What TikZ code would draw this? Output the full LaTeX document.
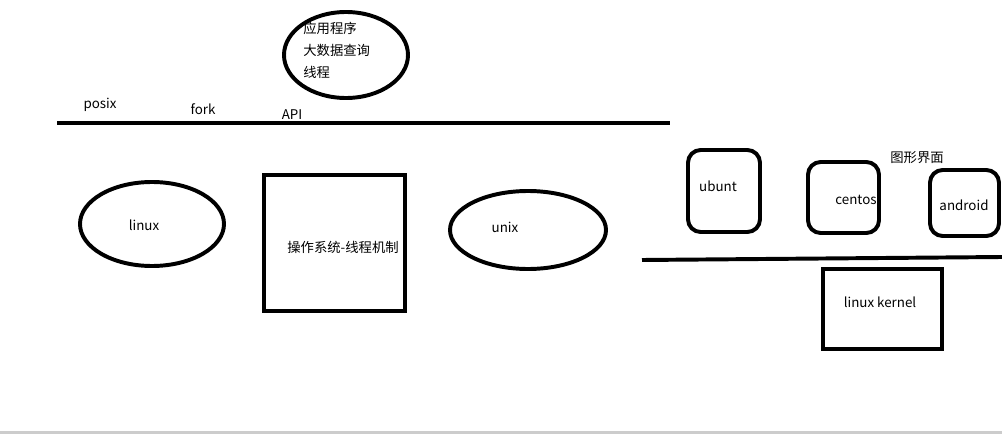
\documentclass[tikz,border=0pt]{standalone}
\usepackage{fontspec}
\setmainfont{Noto Sans CJK SC}
\usetikzlibrary{shapes}

\tikzset{
  stroke/.style={line width=2.8pt},
  label/.style={font=\fontsize{9.5}{11}\selectfont, inner sep=0pt},
  distro/.style={stroke, rounded corners=9pt},
}

\begin{document}
\begin{tikzpicture}[x=0.025cm, y=-0.025cm]
      \useasboundingbox (0, 0) rectangle (1002, 434);
      \fill[gray!40] (0, 431) rectangle (1002, 434);

      % Nodes
      \coordinate (L1a) at (57, 123);
      \coordinate (L1b) at (670, 123);
      \coordinate (L2a) at (642, 260);
      \coordinate (L2b) at (1002, 257);

      % Le haut
      \draw[stroke] (346, 55) ellipse [x radius=62, y radius=43];
      \node[label, anchor=west] (app) at (303, 28) {应用程序};
      \node[label, anchor=west] (bigdata) at (303, 50) {大数据查询};
      \node[label, anchor=west] (thread) at (303, 72) {线程};

      \node[label] (posix) at (100, 105) {posix};
      \node[label] (fork) at (203, 109) {fork};
      \node[label] (api) at (292, 115) {API};
      \draw[stroke] (L1a) -- (L1b);

      % Le milieu
      \draw[stroke] (152, 224) ellipse [x radius=72, y radius=42];
      \node[label] (linux) at (144, 225) {linux};
      \draw[stroke] (264, 175) rectangle (405, 311);
      \node[label, anchor=west] (os) at (287, 247) {操作系统-线程机制};
      \draw[stroke] (528, 230) ellipse [x radius=78, y radius=39];
      \node[label] (unix) at (505, 227) {unix};

      % Le reste
      \draw[distro] (688, 150) rectangle (760, 232);
      \node[label] (ubunt) at (718, 186) {ubunt};
      \draw[distro] (808, 162) rectangle (879, 233);
      \node[label] (centos) at (856, 200) {centos};
      \draw[distro] (930, 170) rectangle (999, 236);
      \node[label] (android) at (964, 205) {android};
      \node[label] (gui) at (917, 158) {图形界面};
      \draw[stroke] (L2a) -- (L2b);
      \draw[stroke] (823, 269) rectangle (942, 349);
      \node[label] (kernel) at (880, 302) {linux kernel};
    \end{tikzpicture}
\end{document}
